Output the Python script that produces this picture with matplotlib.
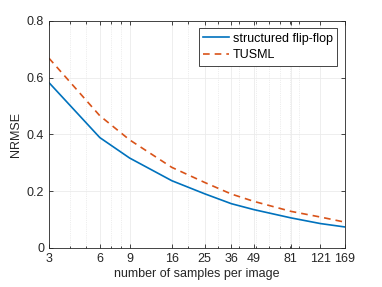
import numpy as np
import matplotlib.pyplot as plt
from matplotlib.ticker import FixedLocator, NullFormatter

plt.rcParams['font.family'] = ['Liberation Sans', 'DejaVu Sans']

samples = [3, 6, 9, 16, 25, 36, 49, 81, 121, 169]
flipflop = [0.583, 0.389, 0.317, 0.237, 0.191, 0.156, 0.135, 0.106, 0.086, 0.074]
tusml = [0.669, 0.466, 0.381, 0.284, 0.231, 0.190, 0.164, 0.129, 0.109, 0.091]
xtick_labels = ['3', '6', '9', '16', '25', '36', '49', '81', '121', '169']

fig = plt.figure(figsize=(3.82, 2.87), dpi=100)
ax = fig.add_axes([0.128, 0.136, 0.775, 0.791])

ax.plot(samples, flipflop, color=(0, 0.447, 0.741), lw=1.2, label='structured flip-flop')
ax.plot(samples, tusml, color=(0.85, 0.325, 0.098), lw=1.2, ls=(0, (4, 3)), label='TUSML')

ax.set_xscale('log')
ax.set_xlim(3, 169)
ax.set_ylim(0, 0.8)
ax.xaxis.set_major_locator(FixedLocator(samples))
ax.set_xticklabels(xtick_labels)
minor = [m * d for d in [1, 10, 100] for m in range(2, 10) if 3 < m * d < 169 and m * d not in samples]
ax.xaxis.set_minor_locator(FixedLocator(minor))
ax.xaxis.set_minor_formatter(NullFormatter())
ax.set_yticks([0, 0.2, 0.4, 0.6, 0.8])
ax.set_yticklabels(['0', '0.2', '0.4', '0.6', '0.8'])

ax.grid(True, which='major', color='#ebebeb', lw=0.6)
ax.grid(True, which='minor', axis='x', color='#dedede', lw=0.5, ls=':')
ax.set_axisbelow(True)

ax.tick_params(which='both', direction='in', top=True, right=True, labelsize=9, colors='#262626', length=3, width=0.6)
ax.tick_params(which='minor', length=1.8)
for s in ax.spines.values():
    s.set_color('#262626')
    s.set_linewidth(0.6)

ax.set_xlabel('number of samples per image', fontsize=9, color='#262626', labelpad=2)
ax.set_ylabel('NRMSE', fontsize=9, color='#262626', labelpad=3)

leg = ax.legend(loc='upper right', fontsize=9, fancybox=False, framealpha=1,
                edgecolor='#262626', handlelength=2.1, borderpad=0.35,
                labelspacing=0.35, handletextpad=0.3, borderaxespad=0.6)
leg.get_frame().set_linewidth(0.6)

fig.savefig('out.png', dpi=100)
